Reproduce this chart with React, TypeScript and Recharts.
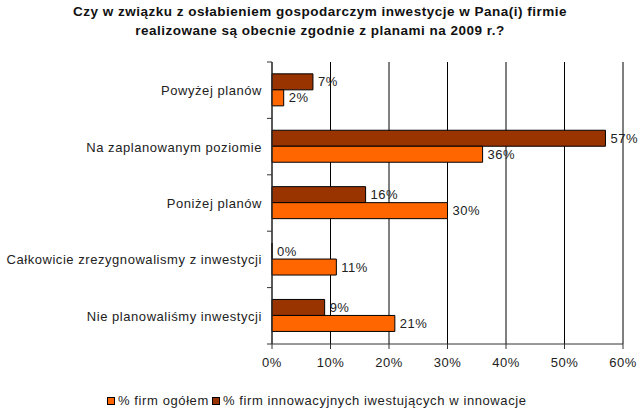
import { BarChart, Bar, XAxis, YAxis, CartesianGrid, LabelList } from 'recharts'

const categories = [
  'Powyżej planów',
  'Na zaplanowanym poziomie',
  'Poniżej planów',
  'Całkowicie zrezygnowalismy z inwestycji',
  'Nie planowaliśmy inwestycji',
]
const innowacyjne = [7, 57, 16, 0, 9]
const ogolem = [2, 36, 30, 11, 21]
const xTicks = [0, 10, 20, 30, 40, 50, 60]

const seriesNames = {
  ogolem: '% firm ogółem',
  innowacyjne: '% firm innowacyjnych iwestujących w innowacje',
}
const colors = { ogolem: '#ff6600', innowacyjne: '#993300' }

const data = categories.map((name, i) => ({
  name,
  innowacyjne: innowacyjne[i],
  ogolem: ogolem[i],
}))

const FONT = '"Liberation Sans", Arial, sans-serif'
const HALF_BAND = 28.2
const labelStyle = { fontSize: 13, fill: '#222', fontFamily: FONT, letterSpacing: 0.5 }

// label on the left plus a small tick mark at the boundary between categories
function CategoryTick(props: any) {
  const { x, y, payload, index } = props
  const last = index === categories.length - 1
  return (
    <g>
      <text x={x - 10} y={y} dy={5} textAnchor="end" fontSize={13} fill="#222" fontFamily={FONT} letterSpacing={0.55}>
        {payload.value}
      </text>
      <line x1={x - 5} x2={x} y1={y - HALF_BAND} y2={y - HALF_BAND} stroke="#333" />
      {last && <line x1={x - 5} x2={x} y1={y + HALF_BAND} y2={y + HALF_BAND} stroke="#333" />}
    </g>
  )
}

function ChartLegend() {
  const items = [
    { key: 'ogolem', label: seriesNames.ogolem, color: colors.ogolem },
    { key: 'innowacyjne', label: seriesNames.innowacyjne, color: colors.innowacyjne },
  ]
  return (
    <div
      style={{
        position: 'absolute',
        top: 393,
        left: 107,
        display: 'flex',
        fontFamily: FONT,
        fontSize: 13,
        letterSpacing: 0.6,
        color: '#222',
        whiteSpace: 'nowrap',
      }}
    >
      {items.map((it) => (
        <span key={it.key} style={{ display: 'inline-flex', alignItems: 'center', marginRight: 3 }}>
          <span
            style={{
              display: 'inline-block',
              width: 6,
              height: 6,
              background: it.color,
              border: '1px solid #000',
              marginRight: 3,
            }}
          />
          {it.label}
        </span>
      ))}
    </div>
  )
}

export default function App() {
  return (
    <div style={{ position: 'absolute', left: 0, top: 0, width: 640, height: 413, background: '#fff' }}>
      <div
        style={{
          position: 'absolute',
          top: 2,
          left: 0,
          width: 640,
          textAlign: 'center',
          fontFamily: FONT,
          fontWeight: 'bold',
          fontSize: 13.5,
          letterSpacing: 0.5,
          lineHeight: '19px',
          color: '#111',
        }}
      >
        Czy w związku z osłabieniem gospodarczym inwestycje w Pana(i) firmie
        <br />
        realizowane są obecnie zgodnie z planami na 2009 r.?
      </div>
      <BarChart
        width={640}
        height={413}
        data={data}
        layout="vertical"
        barCategoryGap="21%"
        barGap={0}
        margin={{ top: 62, right: 17, left: 0, bottom: 44 }}
        style={{ position: 'absolute', left: 0, top: 0 }}
      >
        <CartesianGrid horizontal={false} vertical stroke="#000" />
        <XAxis
          type="number"
          domain={[0, 60]}
          ticks={xTicks}
          tickFormatter={(v: number) => `${v}%`}
          tick={{ fontSize: 13, fill: '#222', fontFamily: FONT, letterSpacing: 0.5 }}
          axisLine={{ stroke: '#333' }}
          tickLine={{ stroke: '#333' }}
          tickSize={5}
          tickMargin={9}
          height={25}
        />
        <YAxis
          type="category"
          dataKey="name"
          width={272}
          tick={<CategoryTick />}
          tickLine={false}
          tickSize={0}
          tickMargin={0}
          axisLine={{ stroke: '#333' }}
        />
        <Bar
          dataKey="innowacyjne"
          name={seriesNames.innowacyjne}
          fill={colors.innowacyjne}
          stroke="#000"
          minPointSize={0.01}
          isAnimationActive={false}
        >
          <LabelList dataKey="innowacyjne" position="right" offset={5} formatter={(v: any) => `${v}%`} style={labelStyle} />
        </Bar>
        <Bar dataKey="ogolem" name={seriesNames.ogolem} fill={colors.ogolem} stroke="#000" isAnimationActive={false}>
          <LabelList dataKey="ogolem" position="right" offset={5} formatter={(v: any) => `${v}%`} style={labelStyle} />
        </Bar>
      </BarChart>
      <ChartLegend />
    </div>
  )
}
